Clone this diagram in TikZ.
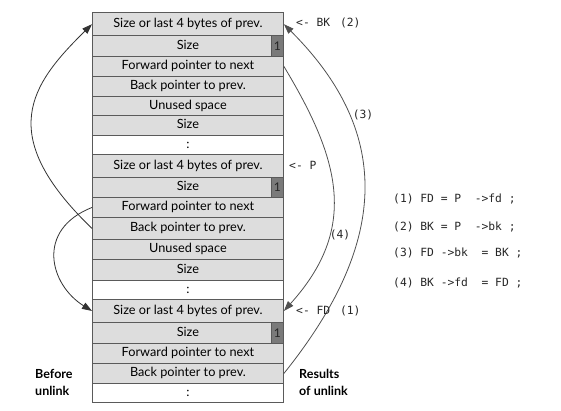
\documentclass[tikz,border=0pt]{standalone}
\usepackage{fontspec}
\setmainfont{Lato}
\newfontfamily\codefont{DejaVu Sans Mono}
\usetikzlibrary{arrows.meta}
\definecolor{cellgray}{HTML}{DDDDDD}
\definecolor{bordergray}{HTML}{5A5A5A}
\definecolor{onegray}{HTML}{7A7A7A}
\definecolor{linegray}{HTML}{505050}
\tikzset{
  cell/.style={draw=bordergray, fill=cellgray, line width=0.9pt, minimum width=191pt,
    inner sep=0pt, anchor=north west, font=\fontsize{12.7}{14}\selectfont,
    text height=9pt, text depth=2.5pt},
  blank/.style={cell, fill=white},
  onebox/.style={draw=bordergray, fill=onegray, line width=0.9pt, minimum width=12pt,
    inner sep=0pt, anchor=north east, font=\fontsize{12}{12}\selectfont,
    text=black!85, text height=8.5pt, text depth=0pt},
  code/.style={font=\codefont\fontsize{11.3}{13}\selectfont, inner sep=0pt, text=black!85},
  larrow/.style={draw=black!80, line width=0.8pt, -{Triangle[length=10pt,width=7pt]}},
  rarrow/.style={draw=linegray, line width=0.8pt, -{Triangle[length=10pt,width=7pt]}},
  boldlbl/.style={font=\bfseries\fontsize{12.5}{17}\selectfont, align=left, inner sep=0pt, anchor=west}
}
\begin{document}
\begin{tikzpicture}[x=1pt,y=1pt]
\useasboundingbox (0,0) rectangle (561,-411);
% chunk 1
\node[cell, minimum height=22.5pt] (r1) at (92,-12.5) {Size or last 4 bytes of prev.};
\node[cell, minimum height=21pt] (r2) at (92,-35) {Size};
\node[cell, minimum height=20pt] (r3) at (92,-56) {Forward pointer to next};
\node[cell, minimum height=20pt] (r4) at (92,-76) {Back pointer to prev.};
\node[cell, minimum height=19pt] (r5) at (92,-96) {Unused space};
\node[cell, minimum height=20pt] (r6) at (92,-115) {Size};
\node[blank, minimum height=19pt] (r7) at (92,-135) {:};
% chunk 2
\node[cell, minimum height=23pt] (r8) at (92,-154) {Size or last 4 bytes of prev.};
\node[cell, minimum height=20pt] (r9) at (92,-177) {Size};
\node[cell, minimum height=20pt] (r10) at (92,-197) {Forward pointer to next};
\node[cell, minimum height=22pt] (r11) at (92,-217) {Back pointer to prev.};
\node[cell, minimum height=20pt] (r12) at (92,-239) {Unused space};
\node[cell, minimum height=21pt] (r13) at (92,-259) {Size};
\node[blank, minimum height=19pt] (r14) at (92,-280) {:};
% chunk 3
\node[cell, minimum height=23pt] (r15) at (92,-299) {Size or last 4 bytes of prev.};
\node[cell, minimum height=21pt] (r16) at (92,-322) {Size};
\node[cell, minimum height=20pt] (r17) at (92,-343) {Forward pointer to next};
\node[cell, minimum height=20pt] (r18) at (92,-363) {Back pointer to prev.};
\node[blank, minimum height=19pt] (r19) at (92,-383) {:};
% in-use bits
\node[onebox, minimum height=21pt] (o1) at (r2.north east) {1};
\node[onebox, minimum height=20pt] (o2) at (r9.north east) {1};
\node[onebox, minimum height=21pt] (o3) at (r16.north east) {1};
% before unlink arrows
\draw[larrow] (r11.west) .. controls (-5,-135) and (30,-85) .. (r1.west);
\draw[larrow] (r10.west) .. controls (35,-230) and (50,-285) .. (r15.west);
% after unlink arrows
\draw[rarrow] (r18.east) .. controls (385.9,-246.4) and (395.6,-135.6) .. (r1.east);
\draw[rarrow] (r3.east) .. controls (340.7,-160.5) and (358.3,-228.5) .. (r15.east);
% labels
\node[code, anchor=west] (lbk) at (296,-22.5) {<-~BK\hspace{3pt}~(2)};
\node[code, anchor=west] (lp) at (289,-165) {<-~P};
\node[code, anchor=west] (lfd) at (296,-310.5) {<-~FD\hspace{3pt}~(1)};
\node[code] (l3) at (363,-115) {(3)};
\node[code] (l4) at (340,-235) {(4)};
\node[code, anchor=west] (f1) at (393,-199) {(1)~FD~=~P~~->fd~;};
\node[code, anchor=west] (f2) at (393,-227) {(2)~BK~=~P~~->bk~;};
\node[code, anchor=west] (f3) at (393,-253) {(3)~FD~->bk~~=~BK~;};
\node[code, anchor=west] (f4) at (393,-283) {(4)~BK~->fd~~=~FD~;};
\node[boldlbl] (before) at (35,-382.5) {Before\\unlink};
\node[boldlbl] (results) at (299,-382.5) {Results\\of unlink};
\end{tikzpicture}
\end{document}
